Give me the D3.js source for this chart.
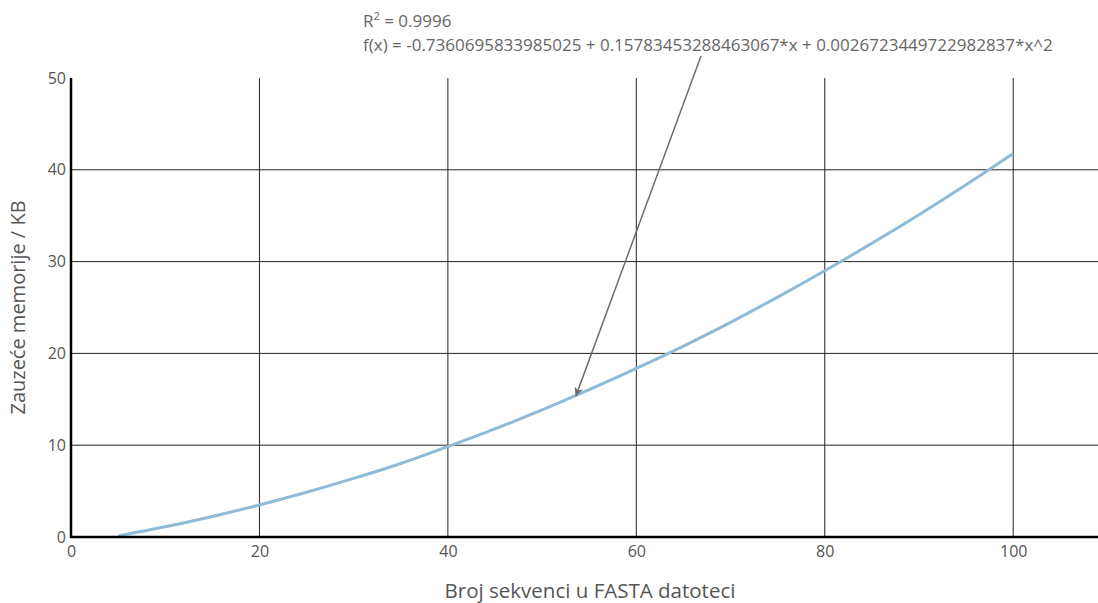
<!DOCTYPE html>
<html>
<head>
<meta charset="utf-8">
<script src="https://cdn.jsdelivr.net/npm/d3@7"></script>
<style>
  body { margin: 0; background: #fff; }
  text { font-family: "Open Sans", sans-serif; }
</style>
</head>
<body>
<div id="chart"></div>
<script>
// values
var seqCount = [5, 10, 15, 20, 25, 30, 35, 40, 45, 50, 55, 60, 65, 70, 75, 80, 85, 90, 95, 100];
var memoryKB = [0.12, 1.11, 2.24, 3.49, 4.87, 6.38, 8.01, 9.86, 11.78, 13.84, 16.05, 18.36, 20.80, 23.38, 26.13, 29.00, 31.99, 35.11, 38.37, 41.77];
var xTicks = [0, 20, 40, 60, 80, 100];
var yTicks = [0, 10, 20, 30, 40, 50];
var fitR2 = "= 0.9996";
var fitFormula = "f(x) = -0.7360695833985025 + 0.15783453288463067*x + 0.002672344972298283" + "7*x^2";
var arrowTip = [53.6, 15.4];

var width = 1098, height = 603;
var margin = { top: 78, right: 0, bottom: 66, left: 71 };
var w = width - margin.left - margin.right;
var h = height - margin.top - margin.bottom;

var svg = d3.select("#chart").append("svg")
  .attr("width", width).attr("height", height);

svg.append("defs").append("marker")
  .attr("id", "arrow")
  .attr("viewBox", "0 0 10 10")
  .attr("refX", 9).attr("refY", 5)
  .attr("markerWidth", 6).attr("markerHeight", 6)
  .attr("orient", "auto")
  .append("path")
  .attr("d", "M0,0 L10,5 L0,10 L3,5 z")
  .attr("fill", "#6e6e6e");

var xScale = d3.scaleLinear().domain([0, 109]).range([0, w]);
var yScale = d3.scaleLinear().domain([0, 50]).range([h, 0]);

var g = svg.append("g").attr("transform", "translate(" + margin.left + "," + margin.top + ")");

// grid
g.append("g").selectAll("line").data(xTicks.slice(1)).enter().append("line")
  .attr("x1", function (d) { return xScale(d); })
  .attr("x2", function (d) { return xScale(d); })
  .attr("y1", 0).attr("y2", h)
  .attr("stroke", "#222").attr("stroke-width", 1);
g.append("g").selectAll("line").data(yTicks.slice(1, -1)).enter().append("line")
  .attr("y1", function (d) { return yScale(d); })
  .attr("y2", function (d) { return yScale(d); })
  .attr("x1", 0).attr("x2", w)
  .attr("stroke", "#222").attr("stroke-width", 1);

// curve
var line = d3.line()
  .x(function (d, i) { return xScale(seqCount[i]); })
  .y(function (d) { return yScale(d); })
  .curve(d3.curveMonotoneX);
g.append("path").datum(memoryKB)
  .attr("d", line)
  .attr("fill", "none")
  .attr("stroke", "#8fbbd9")
  .attr("stroke-width", 3);

// axes
var xAxis = d3.axisBottom(xScale).tickValues(xTicks).tickSize(0).tickPadding(9);
var yAxis = d3.axisLeft(yScale).tickValues(yTicks).tickSize(0).tickPadding(5);

var gx = g.append("g").attr("transform", "translate(0," + h + ")").call(xAxis);
var gy = g.append("g").call(yAxis);
[gx, gy].forEach(function (a) {
  a.select(".domain").attr("stroke", "#000").attr("stroke-width", 2.5);
  a.selectAll("text").attr("fill", "#555").style("font-size", "16px");
});
gy.select(".domain").attr("d", "M0," + (h + 1) + "V0");
gx.select(".domain").attr("d", "M-1,0H" + w);

// axis titles
svg.append("text")
  .attr("x", 590).attr("y", 598)
  .attr("text-anchor", "middle")
  .attr("fill", "#555").style("font-size", "20.5px")
  .text("Broj sekvenci u FASTA datoteci");
svg.append("text")
  .attr("transform", "translate(25," + (margin.top + h / 2) + ") rotate(-90)")
  .attr("text-anchor", "middle")
  .attr("fill", "#555").style("font-size", "20px")
  .text("Zauzeće memorije / KB");

// annotation
var t1 = svg.append("text").attr("x", 363).attr("y", 27)
  .attr("fill", "#666").style("font-size", "17px");
t1.append("tspan").text("R");
t1.append("tspan").attr("dy", -7).style("font-size", "11px").text("2");
t1.append("tspan").attr("dy", 7).text(" " + fitR2);
svg.append("text").attr("x", 363).attr("y", 51)
  .attr("fill", "#666").style("font-size", "17px")
  .text(fitFormula);

svg.append("line")
  .attr("x1", 701).attr("y1", 56)
  .attr("x2", margin.left + xScale(arrowTip[0]))
  .attr("y2", margin.top + yScale(arrowTip[1]))
  .attr("stroke", "#6e6e6e").attr("stroke-width", 1.5)
  .attr("marker-end", "url(#arrow)");
</script>
</body>
</html>
